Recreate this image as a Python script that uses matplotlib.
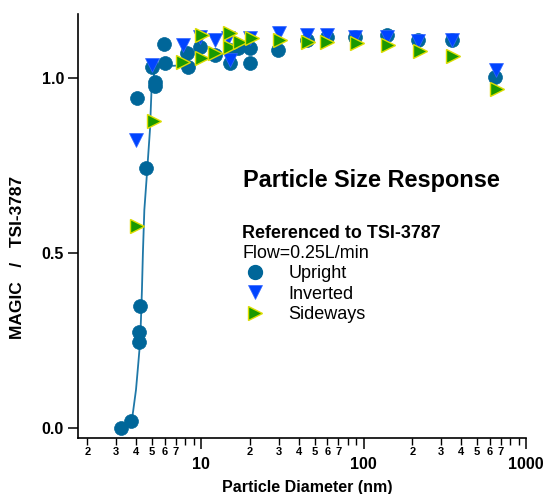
import matplotlib
matplotlib.use("Agg")
import matplotlib.pyplot as plt
from matplotlib.ticker import LogLocator, FuncFormatter, FixedLocator
from matplotlib.lines import Line2D

plt.rcParams['font.family'] = ['Liberation Sans', 'DejaVu Sans']

# Upright
up_d = [3.22, 3.7, 4.15, 4.15, 4.2, 4.6, 4.04, 5.2, 5.2, 5.0, 5.9, 6.0, 8.2, 8.3,
        9.9, 12.2, 15.1, 15.0, 16.9, 20.0, 20.0, 29.8, 44.9, 59.7, 88.7, 140, 216, 350, 644]
up_r = [0.0, 0.02, 0.245, 0.273, 0.35, 0.743, 0.943, 0.977, 0.99, 1.031, 1.097, 1.043, 1.071, 1.031,
        1.089, 1.066, 1.043, 1.08, 1.086, 1.086, 1.043, 1.08, 1.109, 1.117, 1.117, 1.123, 1.109, 1.109, 1.003]

# Inverted
inv_d = [3.98, 5.0, 7.74, 9.9, 12.2, 14.7, 15.0, 20.0, 30.0, 45.0, 60.0, 89.0, 140, 216, 350, 650]
inv_r = [0.823, 1.038, 1.094, 1.117, 1.109, 1.114, 1.052, 1.114, 1.129, 1.123, 1.123, 1.117, 1.117, 1.106, 1.109, 1.023]

# Sideways
side_d = [4.04, 5.14, 7.75, 10.1, 10.1, 12.2, 15.0, 15.0, 17.4, 20.6, 30.6, 45.5, 60.0, 91.0, 141, 222, 354, 660]
side_r = [0.577, 0.877, 1.046, 1.123, 1.057, 1.071, 1.129, 1.089, 1.103, 1.114, 1.109, 1.103, 1.103, 1.1, 1.094, 1.077, 1.063, 0.969]

# fit curve
fit_d = [3.746, 3.83, 3.98, 4.115, 4.214, 4.27, 4.33, 4.39, 4.48, 4.62, 4.85, 4.96, 5.13, 5.44, 6.0, 8.43]
fit_r = [0.02, 0.051, 0.109, 0.186, 0.243, 0.309, 0.394, 0.5, 0.623, 0.709, 0.851, 0.966, 1.009, 1.031, 1.034, 1.037]

fig = plt.figure(figsize=(5.44, 4.94), dpi=100)
ax = fig.add_axes([78/544, 1-438/494, 448/544, 424/494])

ax.plot(fit_d, fit_r, color='#1f78a8', lw=1.3, zorder=2)
ax.plot(up_d, up_r, 'o', color='#006699', ms=10, mec='#006699', mew=0.5, zorder=3)
ax.plot(inv_d, inv_r, 'v', color='#0044ff', ms=10.5, mec='#3366ff', mew=0.5, zorder=4)
ax.plot(side_d, side_r, '>', color='#1a9900', ms=10, mec='#dddd00', mew=1.0, zorder=5)

ax.set_xscale('log')
ax.set_xlim(1.75, 1000)
ax.set_ylim(-0.0286, 1.183)

for s in ['top', 'right']:
    ax.spines[s].set_visible(False)
for s in ['left', 'bottom']:
    ax.spines[s].set_linewidth(1.2)

ax.set_yticks([0.0, 0.5, 1.0])
ax.set_yticklabels(['0.0', '0.5', '1.0'], fontweight='bold', fontsize=11.5)
ax.tick_params(axis='y', direction='out', length=7, width=1.1, pad=3)

ax.xaxis.set_major_locator(FixedLocator([10, 100, 1000]))
ax.xaxis.set_major_formatter(FuncFormatter(lambda v, p: '%d' % round(v)))
ax.xaxis.set_minor_locator(LogLocator(base=10, subs=range(2, 10), numticks=20))


def minor_fmt(v, p):
    lead = round(v / 10 ** int(f'{v:e}'.split('e')[1]))
    return str(lead) if 2 <= lead <= 7 else ''


ax.xaxis.set_minor_formatter(FuncFormatter(minor_fmt))
ax.tick_params(axis='x', which='major', direction='out', length=8, width=1.1, pad=6, labelsize=11.5)
ax.tick_params(axis='x', which='minor', direction='out', length=5, width=1.0, pad=1.5, labelsize=8)
for lbl in ax.get_xticklabels(which='both'):
    lbl.set_fontweight('bold')

ax.set_xlabel('Particle Diameter (nm)', fontweight='bold', fontsize=11.5)
ax.xaxis.set_label_coords((307-78)/448, (438-487)/424)
ax.xaxis.label.set_va('center')
ax.set_ylabel('MAGIC   /   TSI-3787', fontweight='bold', fontsize=12.5)
ax.yaxis.set_label_coords((18-78)/448, (438-257)/424)
ax.yaxis.label.set_va('center')

fig.text(243/544, 1-181/494, 'Particle Size Response', fontsize=16.9, fontweight='bold', va='center')
fig.text(242/544, 1-233/494, 'Referenced to TSI-3787', fontsize=12.9, fontweight='bold', va='center')
fig.text(242/544, 1-253/494, 'Flow=0.25L/min', fontsize=12.9, va='center')

handles = [
    Line2D([], [], marker='o', ls='', color='#006699', ms=10),
    Line2D([], [], marker='v', ls='', color='#0044ff', ms=10.5, mec='#3366ff', mew=0.5),
    Line2D([], [], marker='>', ls='', color='#1a9900', ms=10, mec='#dddd00', mew=1.0),
]
fig.legend(handles, ['Upright', 'Inverted', 'Sideways'], loc='upper left',
           bbox_to_anchor=(247/544, 1-265/494), frameon=False, fontsize=13,
           borderpad=0, borderaxespad=0, handlelength=0.85, handletextpad=1.45,
           labelspacing=0.2)

plt.savefig('out.png', dpi=100)
